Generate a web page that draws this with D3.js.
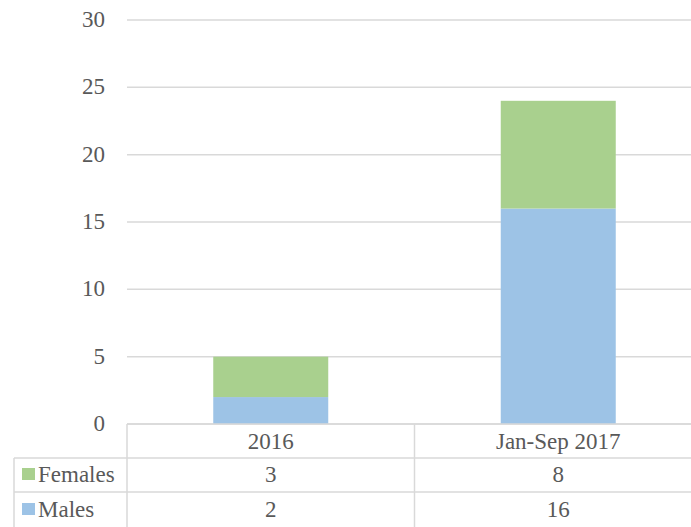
<!DOCTYPE html>
<html><head><meta charset="utf-8">
<script src="https://cdn.jsdelivr.net/npm/d3@7"></script>
<style>body{margin:0;background:#fff}svg{display:block}text{font-family:"Liberation Serif","Times New Roman",Times,serif}</style>
</head><body>
<svg id="c" width="691" height="527"></svg>
<script>
const categories = ["2016", "Jan-Sep 2017"];
const males = [2, 16];
const females = [3, 8];
const seriesNames = ["Females", "Males"];
const yTicks = [0, 5, 10, 15, 20, 25, 30];

(function () {
const svg = d3.select("#c");
const plotLeft = 127, plotRight = 702, plotTop = 20, zeroY = 424;
const grid = "#d9d9d9", txt = "#595959";
const colF = "#a9d08e", colM = "#9dc3e6";
const fs = 23;

const x = d3.scaleBand().domain(categories).range([plotLeft, plotRight]).paddingInner(0).paddingOuter(0);
const y = d3.scaleLinear().domain([0, 30]).range([zeroY, plotTop]);

svg.append("g").selectAll("line").data(yTicks).join("line")
  .attr("x1", plotLeft).attr("x2", plotRight)
  .attr("y1", d => y(d)).attr("y2", d => y(d))
  .attr("stroke", grid).attr("stroke-width", 1.5);

svg.append("g").selectAll("text").data(yTicks).join("text")
  .attr("x", 105).attr("y", d => y(d)).attr("dy", "0.3em")
  .attr("text-anchor", "end").attr("font-size", fs).attr("fill", txt)
  .text(d => d);

const data = categories.map((c, i) => ({cat: c, Males: males[i], Females: females[i]}));
const stack = d3.stack().keys(["Males", "Females"])(data);
const colors = {Males: colM, Females: colF};
const bw = x.bandwidth() * 0.40;
svg.append("g").selectAll("g").data(stack).join("g")
  .attr("fill", d => colors[d.key])
  .selectAll("rect").data(d => d).join("rect")
  .attr("x", d => x(d.data.cat) + x.bandwidth() / 2 - bw / 2)
  .attr("width", bw)
  .attr("y", d => y(d[1]))
  .attr("height", d => y(d[0]) - y(d[1]));

const rowTop = [424, 458, 492, 527];
const tg = svg.append("g");
const lineAttr = sel => sel.attr("stroke", grid).attr("stroke-width", 1.5);
lineAttr(tg.append("line").attr("x1", plotLeft).attr("x2", plotRight).attr("y1", rowTop[0]).attr("y2", rowTop[0]));
lineAttr(tg.append("line").attr("x1", 14).attr("x2", plotRight).attr("y1", rowTop[1]).attr("y2", rowTop[1]));
lineAttr(tg.append("line").attr("x1", 14).attr("x2", plotRight).attr("y1", rowTop[2]).attr("y2", rowTop[2]));
lineAttr(tg.append("line").attr("x1", 14).attr("x2", 14).attr("y1", rowTop[1]).attr("y2", 527));
lineAttr(tg.append("line").attr("x1", plotLeft).attr("x2", plotLeft).attr("y1", rowTop[0]).attr("y2", 527));
categories.forEach((c) => {
  const xr = x(c) + x.bandwidth();
  lineAttr(tg.append("line").attr("x1", xr).attr("x2", xr).attr("y1", rowTop[0]).attr("y2", 527));
});

tg.selectAll("text.h").data(categories).join("text").attr("class", "h")
  .attr("x", d => x(d) + x.bandwidth() / 2).attr("y", 441).attr("dy", "0.33em")
  .attr("text-anchor", "middle").attr("font-size", fs).attr("fill", txt)
  .text(d => d);

const rows = [{name: seriesNames[0], vals: females, color: colF, cy: 474}, {name: seriesNames[1], vals: males, color: colM, cy: 509}];
rows.forEach((r) => {
  const cy = r.cy;
  tg.append("rect").attr("x", 22).attr("y", cy - 6).attr("width", 13).attr("height", 12).attr("fill", r.color);
  tg.append("text").attr("x", 38).attr("y", cy).attr("dy", "0.33em")
    .attr("font-size", fs).attr("fill", txt).text(r.name);
  categories.forEach((c, i) => {
    tg.append("text").attr("x", x(c) + x.bandwidth() / 2).attr("y", cy).attr("dy", "0.33em")
      .attr("text-anchor", "middle").attr("font-size", fs).attr("fill", txt)
      .text(r.vals[i]);
  });
});
})();
</script>
</body></html>
